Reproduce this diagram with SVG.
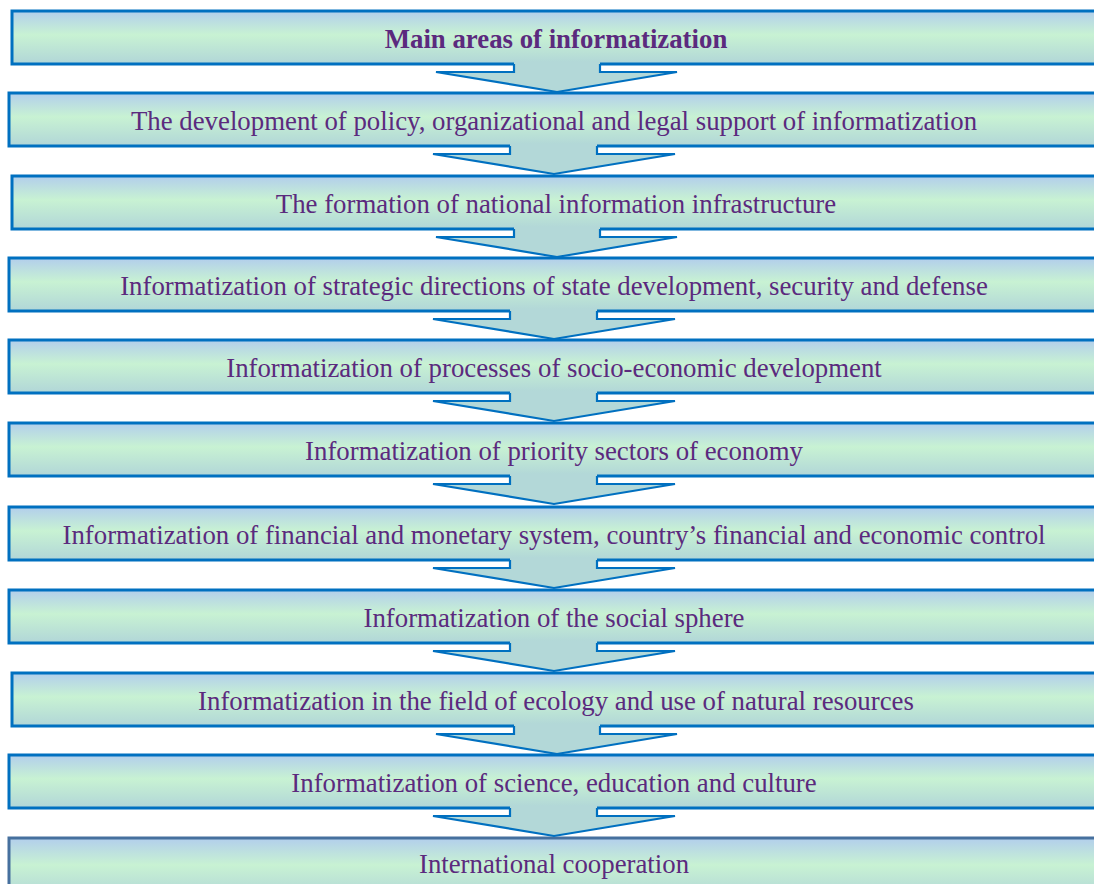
<svg xmlns="http://www.w3.org/2000/svg" width="1094" height="884" viewBox="0 0 1094 884">
<defs>
<linearGradient id="g" x1="0" y1="0" x2="0" y2="1">
<stop offset="0" stop-color="#B2CEEC"/>
<stop offset="0.45" stop-color="#C8F2D3"/>
<stop offset="1" stop-color="#B1D6D8"/>
</linearGradient>
<style>
.box{fill:url(#g);stroke:#0070C0;stroke-width:3}
.last{fill:url(#g);stroke:#46709E;stroke-width:3}
.t{font-family:"Liberation Serif","Times New Roman",serif;font-size:26.8px;fill:#5B2A7E;text-anchor:middle}
.b{font-weight:bold}
.af{fill:#B3D8D8;stroke:none}
.as{fill:none;stroke:#0070C0;stroke-width:2.2;stroke-linejoin:miter}
</style>
</defs>
<rect width="1094" height="884" fill="#FFFFFF"/>
<g id="n1"><rect class="box" x="12" y="11" width="1100" height="53"/><text class="t b" x="556" y="48">Main areas of informatization</text></g>
<g id="n2"><rect class="box" x="9" y="93" width="1100" height="53"/><text class="t" x="554" y="130">The development of policy, organizational and legal support of informatization</text></g>
<g id="n3"><rect class="box" x="12" y="176" width="1100" height="53"/><text class="t" x="556" y="213">The formation of national information infrastructure</text></g>
<g id="n4"><rect class="box" x="9" y="258" width="1100" height="53"/><text class="t" x="554" y="295">Informatization of strategic directions of state development, security and defense</text></g>
<g id="n5"><rect class="box" x="9" y="340" width="1100" height="53"/><text class="t" x="554" y="377">Informatization of processes of socio-economic development</text></g>
<g id="n6"><rect class="box" x="9" y="423" width="1100" height="53"/><text class="t" x="554" y="460">Informatization of priority sectors of economy</text></g>
<g id="n7"><rect class="box" x="9" y="507" width="1100" height="53"/><text class="t" x="554" y="544">Informatization of financial and monetary system, country’s financial and economic control</text></g>
<g id="n8"><rect class="box" x="9" y="590" width="1100" height="53"/><text class="t" x="554" y="627">Informatization of the social sphere</text></g>
<g id="n9"><rect class="box" x="12" y="673" width="1100" height="53"/><text class="t" x="556" y="710">Informatization in the field of ecology and use of natural resources</text></g>
<g id="n10"><rect class="box" x="9" y="755" width="1100" height="53"/><text class="t" x="554" y="792">Informatization of science, education and culture</text></g>
<g id="n11"><rect class="last" x="9" y="838" width="1100" height="60"/><text class="t" x="554" y="873">International cooperation</text></g>
<g id="connectors">
<g transform="translate(0,0)"><polygon class="af" points="514,62 514,72 436,72 557,92 677,72 600,72 600,62"/><polyline class="as" points="514,64 514,72 436,72 557,92 677,72 600,72 600,64"/></g>
<g transform="translate(0,82)"><polygon class="af" points="510,62 510,72 433,72 554,92 675,72 597,72 597,62"/><polyline class="as" points="510,64 510,72 433,72 554,92 675,72 597,72 597,64"/></g>
<g transform="translate(0,165)"><polygon class="af" points="514,62 514,72 436,72 557,92 677,72 600,72 600,62"/><polyline class="as" points="514,64 514,72 436,72 557,92 677,72 600,72 600,64"/></g>
<g transform="translate(0,247)"><polygon class="af" points="510,62 510,72 433,72 554,92 675,72 597,72 597,62"/><polyline class="as" points="510,64 510,72 433,72 554,92 675,72 597,72 597,64"/></g>
<g transform="translate(0,329)"><polygon class="af" points="510,62 510,72 433,72 554,92 675,72 597,72 597,62"/><polyline class="as" points="510,64 510,72 433,72 554,92 675,72 597,72 597,64"/></g>
<g transform="translate(0,412)"><polygon class="af" points="510,62 510,72 433,72 554,92 675,72 597,72 597,62"/><polyline class="as" points="510,64 510,72 433,72 554,92 675,72 597,72 597,64"/></g>
<g transform="translate(0,496)"><polygon class="af" points="510,62 510,72 433,72 554,92 675,72 597,72 597,62"/><polyline class="as" points="510,64 510,72 433,72 554,92 675,72 597,72 597,64"/></g>
<g transform="translate(0,579)"><polygon class="af" points="510,62 510,72 433,72 554,92 675,72 597,72 597,62"/><polyline class="as" points="510,64 510,72 433,72 554,92 675,72 597,72 597,64"/></g>
<g transform="translate(0,662)"><polygon class="af" points="514,62 514,72 436,72 557,92 677,72 600,72 600,62"/><polyline class="as" points="514,64 514,72 436,72 557,92 677,72 600,72 600,64"/></g>
<g transform="translate(0,744)"><polygon class="af" points="510,62 510,72 433,72 554,92 675,72 597,72 597,62"/><polyline class="as" points="510,64 510,72 433,72 554,92 675,72 597,72 597,64"/></g>
</g>
</svg>
